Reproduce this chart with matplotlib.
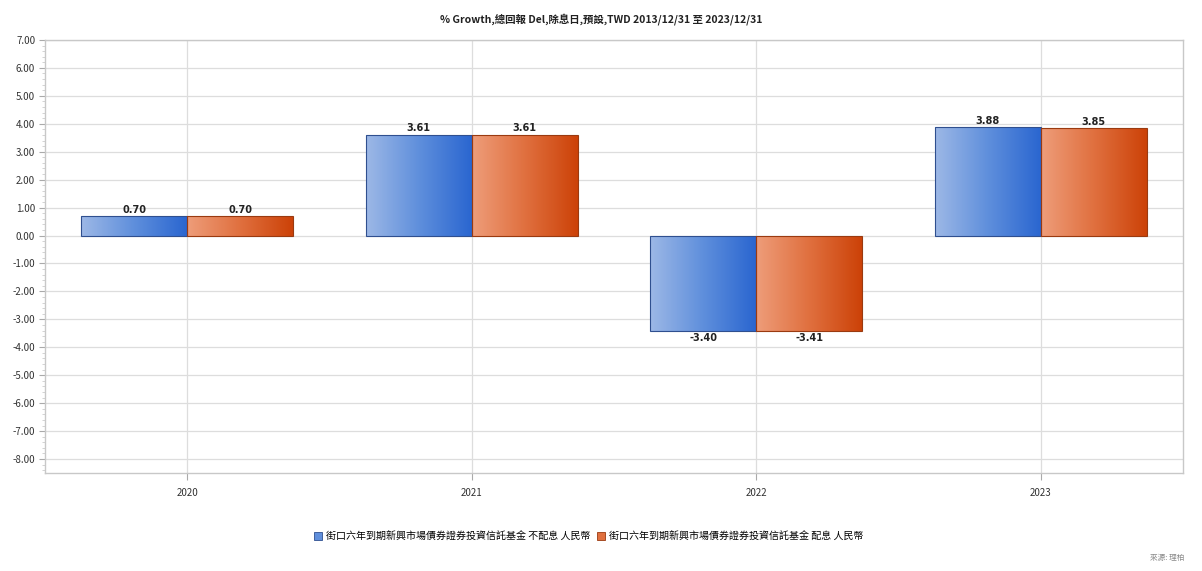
import numpy as np
import matplotlib.pyplot as plt
from matplotlib.patches import Rectangle
from matplotlib.colors import LinearSegmentedColormap

plt.rcParams['font.family'] = ['Noto Sans CJK TC', 'DejaVu Sans']

years = ["2020", "2021", "2022", "2023"]
acc_vals = [0.70, 3.61, -3.40, 3.88]
dist_vals = [0.70, 3.61, -3.41, 3.85]
series_names = ["街口六年到期新興市場債券證券投資信託基金 不配息 人民幣",
                "街口六年到期新興市場債券證券投資信託基金 配息 人民幣"]
title = "% Growth,總回報 Del,除息日,預設,TWD 2013/12/31 至 2023/12/31"
source = "來源: 理柏"

blue_cmap = LinearSegmentedColormap.from_list("b", ["#9db8e6", "#5f8fdc", "#2a66d0"])
orange_cmap = LinearSegmentedColormap.from_list("o", ["#ee9d7a", "#e0703f", "#cc4208"])
edge_blue = "#2f4f8f"
edge_orange = "#9a3a10"

fig = plt.figure(figsize=(12.02, 5.71), dpi=100)
ax = fig.add_axes([0.0374, 0.1716, 0.9468, 0.7584])

width = 0.372
x = np.arange(len(years))
grad = np.linspace(0, 1, 256).reshape(1, -1)


def gradient_bar(x0, h, cmap, edge):
    y0 = min(0, h)
    rect = Rectangle((x0, y0), width, abs(h), facecolor="none", edgecolor=edge, lw=0.8, zorder=3)
    ax.add_patch(rect)
    im = ax.imshow(grad, cmap=cmap, aspect="auto", extent=[x0, x0 + width, y0, y0 + abs(h)],
                   zorder=2.5, interpolation="bicubic")
    im.set_clip_path(rect)


for i in range(len(years)):
    gradient_bar(x[i] - width, acc_vals[i], blue_cmap, edge_blue)
    gradient_bar(x[i], dist_vals[i], orange_cmap, edge_orange)
    for xc, v in [(x[i] - width / 2, acc_vals[i]), (x[i] + width / 2, dist_vals[i])]:
        if v >= 0:
            ax.text(xc, v + 0.05, f"{v:.2f}", ha="center", va="bottom", fontsize=7,
                    fontweight="bold", color="#222222", family="DejaVu Sans")
        else:
            ax.text(xc, v - 0.08, f"{v:.2f}", ha="center", va="top", fontsize=7,
                    fontweight="bold", color="#222222", family="DejaVu Sans")

ax.set_xlim(-0.5, len(years) - 0.5)
ax.set_ylim(-8.5, 7)
ax.set_xticks(x)
ax.set_xticklabels(years)
ax.set_yticks(np.arange(-8, 8, 1))
ax.set_yticklabels([f"{v:.2f}" for v in np.arange(-8, 8, 1)])
ax.set_yticks(np.arange(-8.4, 7.01, 0.2), minor=True)
ax.tick_params(axis="y", which="major", labelsize=7, length=4, color="#aaaaaa", labelcolor="#333333", pad=3)
ax.tick_params(axis="y", which="minor", length=2, color="#cccccc")
ax.tick_params(axis="x", labelsize=7, length=5, color="#aaaaaa", labelcolor="#333333", pad=6)
ax.grid(True, which="major", color="#dddddd", lw=0.9, zorder=0)
ax.set_axisbelow(True)
for s in ax.spines.values():
    s.set_color("#c8c8c8")
    s.set_linewidth(1.0)

fig.text(0.5, 0.966, title, ha="center", va="center", fontsize=7.5, fontweight="bold", color="#222222")

handles = [Rectangle((0, 0), 1, 1, facecolor="#5f8fdc", edgecolor=edge_blue, lw=0.6),
           Rectangle((0, 0), 1, 1, facecolor="#e0703f", edgecolor=edge_orange, lw=0.6)]
fig.legend(handles, series_names, loc="center", bbox_to_anchor=(0.49, 0.06), ncol=2,
           frameon=False, fontsize=7.2, handlelength=0.8, handleheight=0.9,
           handletextpad=0.4, columnspacing=0.6)

fig.text(0.985, 0.015, source, ha="right", va="bottom", fontsize=5.5, color="#888888")

fig.savefig("out.png", dpi=100)
